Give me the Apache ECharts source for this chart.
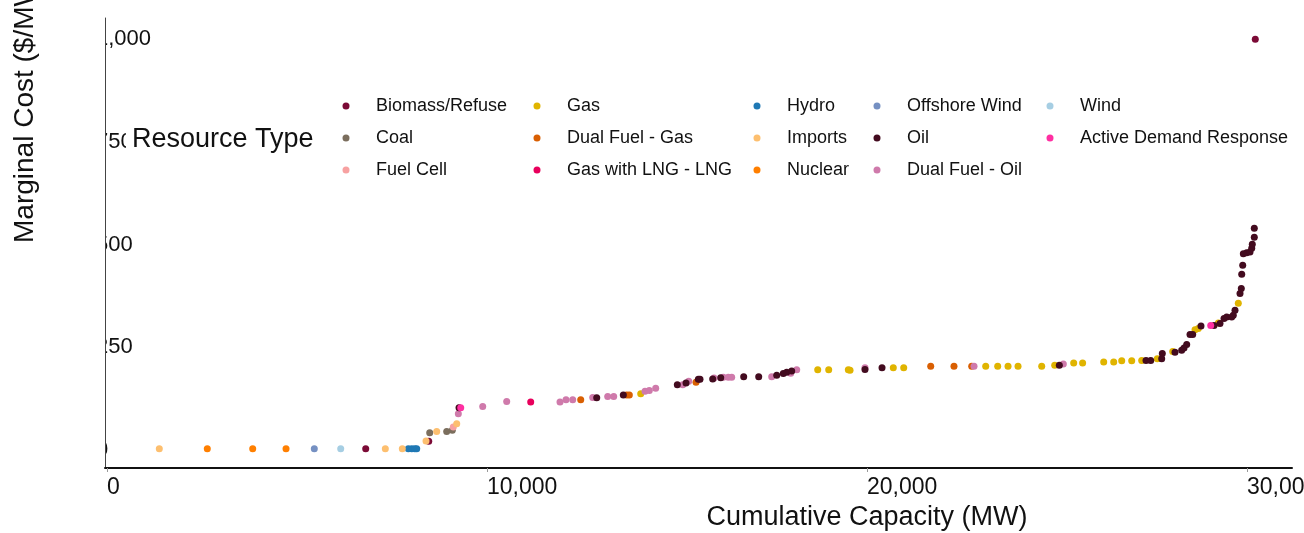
<!DOCTYPE html>
<html>
<head>
<meta charset="utf-8">
<title>Supply Curve by Resource Type</title>
<script src="https://cdn.jsdelivr.net/npm/echarts@6/dist/echarts.min.js"></script>
<style>
  html, body { margin: 0; padding: 0; background: #ffffff; }
  #chart { width: 1304px; height: 533px; }
</style>
</head>
<body>
<div id="chart"></div>
<script>
// Resource types in legend order (column by column)
const resourceTypes = [
  'Biomass/Refuse', 'Coal', 'Fuel Cell',
  'Gas', 'Dual Fuel - Gas', 'Gas with LNG - LNG',
  'Hydro', 'Imports', 'Nuclear',
  'Offshore Wind', 'Oil', 'Dual Fuel - Oil',
  'Wind', 'Active Demand Response'
];

// [cumulative capacity (MW), marginal cost ($/MWh)] for each resource type
const biomassRefuse = [[6808, 3], [8466, 21], [30218, 1000]];
const coal = [[8492, 42], [8939, 45], [9087, 48]];
const fuelCell = [[9113, 56]];
const gas = [
  [14045, 137], [18703, 195], [18992, 195], [19508, 195], [19553, 194],
  [20692, 200], [20966, 200], [23124, 204], [23439, 204], [23711, 204],
  [23974, 204], [24597, 204], [24939, 206], [25439, 212], [25674, 212],
  [26229, 214], [26492, 214], [26703, 217], [26966, 217], [27229, 218],
  [27639, 222], [28045, 240], [28632, 293], [28718, 296], [29245, 309],
  [29771, 357]
];
const dualFuelGas = [
  [12466, 122], [13676, 134], [13745, 134], [15500, 165],
  [21676, 204], [22289, 204], [22755, 204]
];
const gasWithLng = [[11150, 117]];
const hydro = [[7929, 3], [8020, 3], [8100, 3], [8150, 3]];
const imports = [[1376, 3], [7324, 3], [7771, 3], [8395, 22], [8676, 45], [9203, 64]];
const nuclear = [[2639, 3], [3834, 3], [4711, 3]];
const offshoreWind = [[5455, 3]];
const wind = [[6150, 3]];
const oil = [
  [9263, 103], [12887, 127], [13587, 134], [15008, 159], [15237, 163],
  [15561, 172], [15605, 172], [15939, 173], [16150, 176], [16755, 178],
  [17150, 178], [17624, 182], [17797, 186], [17887, 189], [18018, 192],
  [19947, 196], [20395, 200], [25061, 206], [27342, 218], [27466, 218],
  [27755, 222], [27771, 235], [28105, 238], [28281, 243], [28342, 248],
  [28413, 257], [28500, 281], [28571, 281], [28789, 302], [29132, 303],
  [29289, 308], [29395, 320], [29466, 324], [29597, 324], [29639, 328],
  [29684, 340], [29816, 381], [29850, 393], [29861, 428], [29887, 450],
  [29903, 478], [29992, 480], [30079, 482], [30124, 491], [30139, 501],
  [30192, 518], [30192, 540]
];
const dualFuelOil = [
  [9245, 88], [9887, 106], [10518, 118], [11921, 117], [12079, 122],
  [12255, 122], [12782, 128], [13176, 130], [13334, 130], [14158, 143],
  [14271, 145], [14439, 150], [15150, 159], [15308, 167], [15974, 175],
  [16218, 177], [16350, 177], [16439, 177], [17492, 178], [17992, 187],
  [18150, 195], [19947, 200], [22816, 204], [25166, 209]
];
const activeDemandResponse = [[9308, 103], [29045, 303]];

const seriesValues = [
  biomassRefuse, coal, fuelCell,
  gas, dualFuelGas, gasWithLng,
  hydro, imports, nuclear,
  offshoreWind, oil, dualFuelOil,
  wind, activeDemandResponse
];

const palette = [
  '#7b0a36', '#7b6e5d', '#f7a1a1',
  '#e0b400', '#d95f02', '#e8005c',
  '#1f78b4', '#fdbf6f', '#ff7f00',
  '#7590c2', '#430b1f', '#cf7aab',
  '#a6cee3', '#ff2fa2'
];

// Axis tick values
const xTicks = [0, 10000, 20000, 30000];
const yTicks = [0, 250, 500, 750, 1000];

// Legend columns (indices into resourceTypes)
const legendColumns = [[0, 1, 2], [3, 4, 5], [6, 7, 8], [9, 10, 11], [12, 13]];
const legendLeft = [342.5, 533.5, 753.5, 873.5, 1046.5];

const FONT = '"Liberation Sans", Arial, sans-serif';
const fmt = v => Number(v).toLocaleString('en-US');

const chart = echarts.init(document.getElementById('chart'), null, { renderer: 'canvas' });

// Draw order: keep Active Demand Response on top
const drawOrder = [0, 1, 2, 3, 4, 5, 6, 7, 8, 9, 11, 10, 12, 13];

const option = {
  backgroundColor: '#ffffff',
  animation: false,
  color: palette,
  grid: {
    left: 105, right: 12, top: 18, bottom: 65,
    containLabel: false,
    outerBoundsMode: 'none'
  },
  xAxis: {
    type: 'value',
    min: -53,
    max: 31184,
    name: 'Cumulative Capacity (MW)',
    nameLocation: 'middle',
    nameGap: 47,
    nameTextStyle: {
      fontFamily: FONT, fontSize: 27, color: '#111',
      align: 'left', verticalAlign: 'middle', padding: [0, 0, 0, 8]
    },
    axisLine: { show: true, onZero: false, lineStyle: { color: '#111', width: 2 } },
    axisTick: { show: true, length: 4, customValues: xTicks, lineStyle: { color: '#999' } },
    axisLabel: {
      customValues: xTicks, formatter: fmt, align: 'left', margin: 8,
      fontFamily: FONT, fontSize: 23, color: '#111'
    },
    splitLine: { show: false },
    z: 10
  },
  yAxis: [
    {
      // tick labels
      type: 'value',
      min: -44,
      max: 1052,
      position: 'left',
      name: 'Marginal Cost ($/MWh)',
      nameLocation: 'middle',
      nameGap: 80,
      nameTextStyle: {
        fontFamily: FONT, fontSize: 28, color: '#111',
        align: 'left', verticalAlign: 'middle'
      },
      axisLine: { show: false },
      axisTick: { show: false },
      axisLabel: {
        customValues: yTicks, formatter: fmt, align: 'left', margin: 9,
        padding: [8, 0, 0, 0],
        fontFamily: FONT, fontSize: 22, color: '#111'
      },
      splitLine: { show: false },
      z: 1
    },
    {
      // axis line drawn above the label mask
      type: 'value',
      min: -44,
      max: 1052,
      position: 'left',
      axisLine: { show: true, onZero: false, lineStyle: { color: '#444', width: 1 } },
      axisTick: { show: false },
      axisLabel: { show: false },
      splitLine: { show: false },
      z: 10
    }
  ],
  legend: legendColumns.map((col, i) => ({
    orient: 'vertical',
    left: legendLeft[i],
    top: 97,
    padding: 0,
    itemGap: 14,
    itemWidth: 50,
    itemHeight: 7,
    icon: 'circle',
    selectedMode: false,
    data: col.map(k => resourceTypes[k]),
    textStyle: { fontFamily: FONT, fontSize: 18, lineHeight: 18, color: '#111', padding: 0 },
    z: 8
  })),
  graphic: [
    {
      // mask hiding the part of the tick labels left of the axis
      type: 'rect',
      shape: { x: 60, y: 18, width: 46, height: 452 },
      style: { fill: '#ffffff' },
      z: 5,
      silent: true
    },
    {
      // legend box background
      type: 'rect',
      shape: { x: 126, y: 88, width: 1170, height: 100 },
      style: { fill: '#ffffff' },
      z: 6,
      silent: true
    },
    {
      type: 'text',
      x: 132,
      y: 140,
      style: {
        text: 'Resource Type',
        font: '27px "Liberation Sans", Arial, sans-serif',
        fill: '#111',
        textVerticalAlign: 'middle'
      },
      z: 7,
      silent: true
    }
  ],
  series: drawOrder.map(k => ({
    name: resourceTypes[k],
    type: 'scatter',
    data: seriesValues[k],
    symbol: 'circle',
    symbolSize: 7,
    itemStyle: { color: palette[k], opacity: 1 },
    emphasis: { disabled: true },
    z: 3
  }))
};

chart.setOption(option);
</script>
</body>
</html>
